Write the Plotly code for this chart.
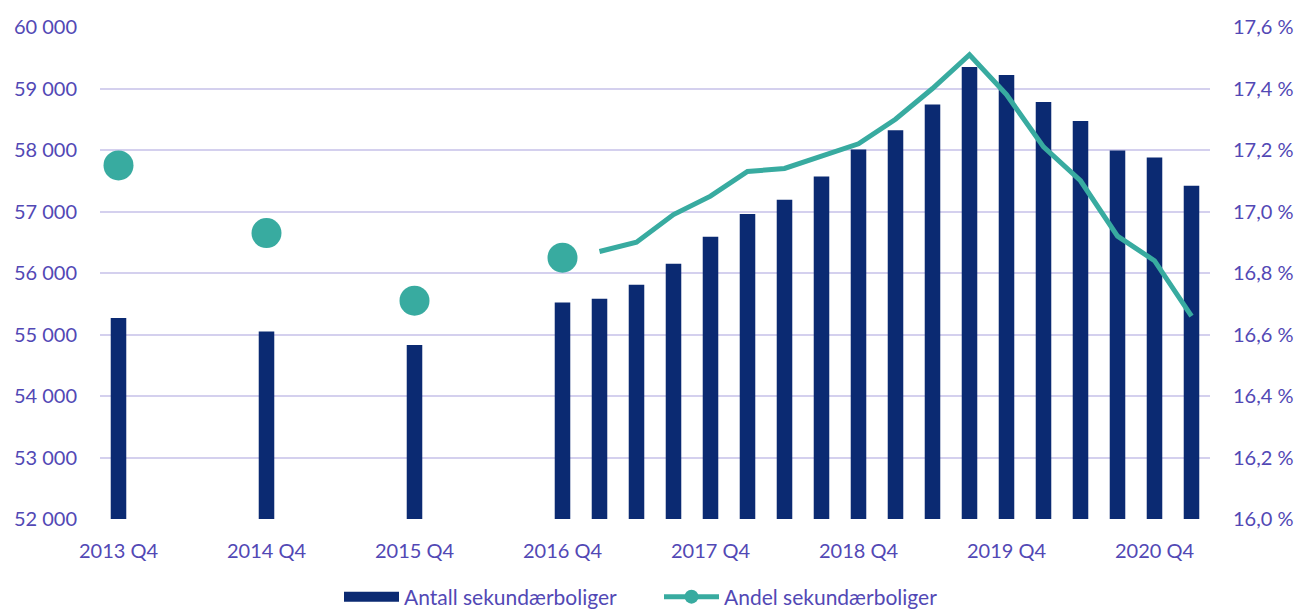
import plotly.graph_objects as go

quarters = []
for y in range(2013, 2022):
    for q in range(1, 5):
        if (y == 2013 and q < 4) or (y == 2021 and q > 1):
            continue
        quarters.append(f"{y} Q{q}")

tick_labels = ["2013 Q4", "2014 Q4", "2015 Q4", "2016 Q4", "2017 Q4", "2018 Q4", "2019 Q4", "2020 Q4"]

bar_quarters = ["2013 Q4", "2014 Q4", "2015 Q4", "2016 Q4",
                "2017 Q1", "2017 Q2", "2017 Q3", "2017 Q4",
                "2018 Q1", "2018 Q2", "2018 Q3", "2018 Q4",
                "2019 Q1", "2019 Q2", "2019 Q3", "2019 Q4",
                "2020 Q1", "2020 Q2", "2020 Q3", "2020 Q4", "2021 Q1"]
antall = [55270, 55050, 54830, 55520,
          55580, 55810, 56150, 56590,
          56960, 57190, 57570, 58010,
          58320, 58740, 59350, 59220,
          58780, 58470, 57990, 57880, 57420]

point_quarters = ["2013 Q4", "2014 Q4", "2015 Q4", "2016 Q4"]
andel_points = [17.15, 16.93, 16.71, 16.85]

line_quarters = ["2017 Q1", "2017 Q2", "2017 Q3", "2017 Q4",
                 "2018 Q1", "2018 Q2", "2018 Q3", "2018 Q4",
                 "2019 Q1", "2019 Q2", "2019 Q3", "2019 Q4",
                 "2020 Q1", "2020 Q2", "2020 Q3", "2020 Q4", "2021 Q1"]
andel_line = [16.87, 16.90, 16.99, 17.05,
              17.13, 17.14, 17.18, 17.22,
              17.30, 17.40, 17.51, 17.38,
              17.21, 17.10, 16.92, 16.84, 16.66]

left_ticks = list(range(52000, 60001, 1000))
right_ticks = [16.0, 16.2, 16.4, 16.6, 16.8, 17.0, 17.2, 17.4, 17.6]

NAVY = "#0B2A72"
TEAL = "#38ABA0"
TXT = "#5248B5"
GRID = "#D4D0EE"
FONT = "Lato, 'Open Sans', sans-serif"

fig = go.Figure()
fig.add_trace(go.Bar(x=bar_quarters, y=antall, name="Antall sekundærboliger",
                     marker=dict(color=NAVY, line=dict(width=0)), yaxis="y",
                     legendgroup="antall", showlegend=False))
fig.add_trace(go.Scatter(x=[None], y=[None], name="Antall sekundærboliger",
                         mode="lines", line=dict(color=NAVY, width=14), yaxis="y",
                         legendgroup="antall"))
fig.add_trace(go.Scatter(x=line_quarters, y=andel_line, name="Andel sekundærboliger",
                         mode="lines", line=dict(color=TEAL, width=5), yaxis="y2",
                         legendgroup="andel", showlegend=False))
fig.add_trace(go.Scatter(x=point_quarters, y=andel_points, name="Andel sekundærboliger",
                         mode="markers", marker=dict(color=TEAL, size=30), yaxis="y2",
                         legendgroup="andel", showlegend=False))
fig.add_trace(go.Scatter(x=[None], y=[None], name="Andel sekundærboliger",
                         mode="lines+markers", line=dict(color=TEAL, width=5),
                         marker=dict(color=TEAL, size=14), yaxis="y2", legendgroup="andel"))

W, H = 1294, 606
fig.update_layout(
    width=W, height=H,
    margin=dict(l=92, r=92, t=19, b=95, autoexpand=False),
    paper_bgcolor="white", plot_bgcolor="white",
    font=dict(family=FONT, size=20, color=TXT),
    bargap=0.58,
    showlegend=True,
    legend=dict(orientation="h", x=651 / W, xanchor="center", xref="container",
                y=17 / H, yanchor="middle", yref="container",
                font=dict(size=21, color=TXT), itemwidth=55, traceorder="normal",
                tracegroupgap=0, entrywidth=250),
    xaxis=dict(type="category", categoryorder="array", categoryarray=quarters,
               range=[-0.5, len(quarters) - 0.5], automargin=False,
               tickmode="array", tickvals=tick_labels, ticktext=tick_labels,
               showgrid=False, showline=False, zeroline=False, ticks="",
               ticklabelstandoff=18, tickfont=dict(size=20, color=TXT)),
    yaxis=dict(range=[52000, 60000], tickvals=left_ticks, automargin=False,
               ticktext=[f"{v:,}".replace(",", " ") for v in left_ticks],
               showgrid=True, gridcolor=GRID, gridwidth=2, zeroline=False,
               showline=False, ticks="", ticklabelstandoff=22,
               tickfont=dict(size=20, color=TXT)),
    yaxis2=dict(range=[16.0, 17.6], tickvals=right_ticks, automargin=False,
                ticktext=[f"{v:.1f}".replace(".", ",") + " %" for v in right_ticks],
                overlaying="y", side="right", showgrid=False, zeroline=False,
                showline=False, ticks="", ticklabelstandoff=22,
                tickfont=dict(size=20, color=TXT)),
)

fig.write_html("out.html")
